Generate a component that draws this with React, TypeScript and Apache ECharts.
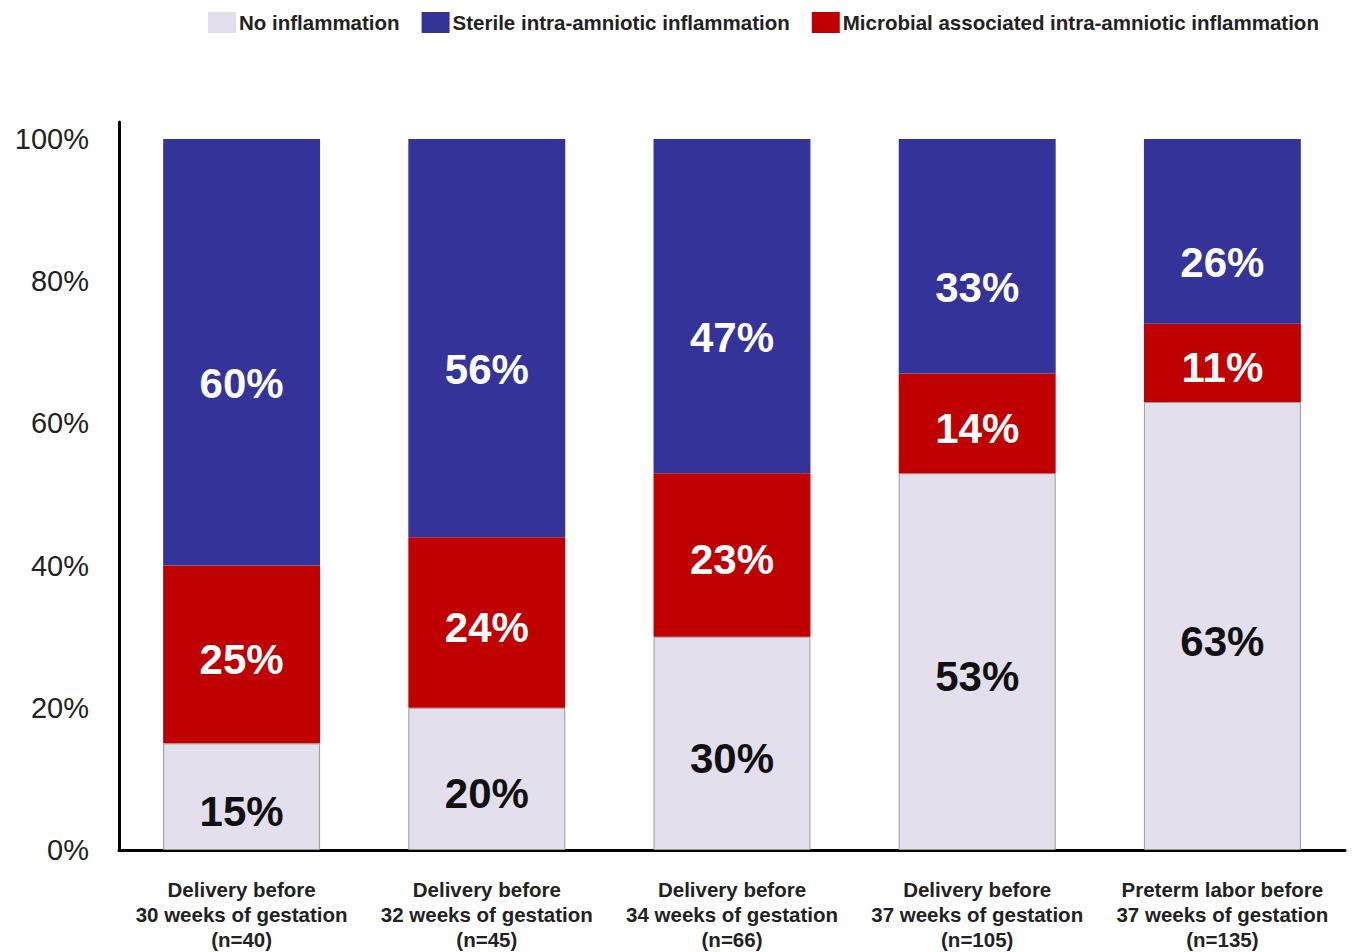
import React, { useEffect, useRef } from "react";
import * as echarts from "echarts";

const categories = [
  "Delivery before\n30 weeks of gestation\n(n=40)",
  "Delivery before\n32 weeks of gestation\n(n=45)",
  "Delivery before\n34 weeks of gestation\n(n=66)",
  "Delivery before\n37 weeks of gestation\n(n=105)",
  "Preterm labor before\n37 weeks of gestation\n(n=135)",
];
const noInflammation = [15, 20, 30, 53, 63];
const microbial = [25, 24, 23, 14, 11];
const sterile = [60, 56, 47, 33, 26];
const yTicks = [0, 20, 40, 60, 80, 100];

const FONT = "'Liberation Sans', Arial, sans-serif";

export default function App() {
  const ref = useRef<HTMLDivElement>(null);
  useEffect(() => {
    if (!ref.current) return;
    const chart = echarts.init(ref.current, undefined, { renderer: "svg" });
    const labelBase = {
      show: true,
      position: "inside",
      fontFamily: FONT,
      fontWeight: "bold",
      fontSize: 42,
      formatter: (p: any) => p.value + "%",
    };
    chart.setOption({
      animation: false,
      backgroundColor: "#ffffff",
      legend: {
        left: 203,
        top: 7,
        icon: "rect",
        itemWidth: 28,
        itemHeight: 21,
        itemGap: 22,
        itemStyle: { borderWidth: 0 },
        data: [
          "No inflammation",
          "Sterile intra-amniotic inflammation",
          "Microbial associated intra-amniotic inflammation",
        ],
        textStyle: { fontFamily: FONT, fontWeight: "bold", fontSize: 20.5, color: "#222", padding: [0, 0, 0, -2] },
      },
      grid: { left: 119, right: 13, top: 139 - 712 * 0.024, bottom: 952 - 851, containLabel: false },
      xAxis: {
        type: "category",
        data: categories,
        axisLine: { lineStyle: { color: "#000", width: 3 } },
        axisTick: { show: false },
        axisLabel: {
          margin: 27,
          fontFamily: FONT,
          fontWeight: "bold",
          fontSize: 20.5,
          lineHeight: 25,
          color: "#222",
          interval: 0,
        },
      },
      yAxis: {
        type: "value",
        min: 0,
        max: 102.4,
        interval: 20,
        splitLine: { show: false },
        axisTick: { show: false },
        axisLine: { show: true, lineStyle: { color: "#000", width: 3 } },
        axisLabel: {
          margin: 30,
          fontFamily: FONT,
          fontSize: 29,
          color: "#222",
          formatter: (v: number) => (yTicks.indexOf(v) >= 0 ? v + "%" : ""),
        },
      },
      series: [
        {
          name: "No inflammation",
          type: "bar",
          stack: "all",
          barWidth: "64%",
          data: noInflammation,
          itemStyle: { color: "#E3DFEC", borderColor: "#9a9a9a", borderWidth: 1 },
          label: { ...labelBase, color: "#111", offset: [0, 15] },
        },
        {
          name: "Microbial associated intra-amniotic inflammation",
          type: "bar",
          stack: "all",
          data: microbial,
          itemStyle: { color: "#C00000" },
          label: { ...labelBase, color: "#fff", offset: [0, 5] },
        },
        {
          name: "Sterile intra-amniotic inflammation",
          type: "bar",
          stack: "all",
          data: sterile,
          itemStyle: { color: "#343399" },
          label: { ...labelBase, color: "#fff", offset: [0, 31] },
        },
      ],
    });
    return () => chart.dispose();
  }, []);
  return <div ref={ref} style={{ width: 1358, height: 952, position: "absolute", left: 0, top: 0 }} />;
}
